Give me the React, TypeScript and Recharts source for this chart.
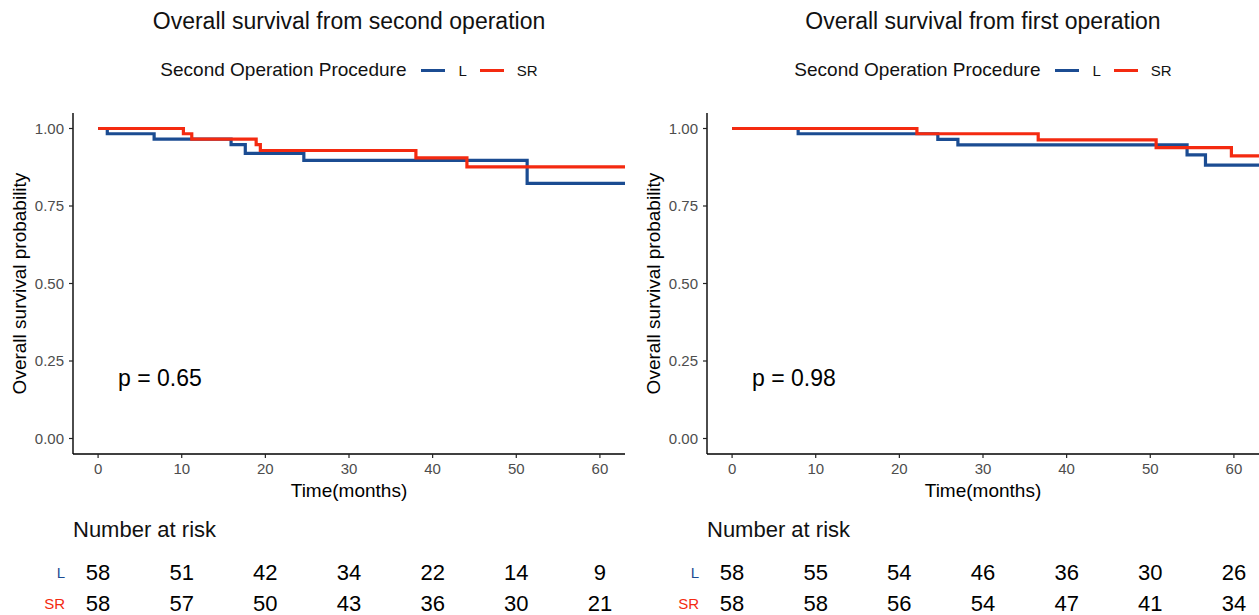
import { LineChart, Line, XAxis, YAxis, ReferenceDot, ScatterChart, Scatter, Label } from "recharts"

const TIME_TICKS = [0, 10, 20, 30, 40, 50, 60]
const SURV_TICKS = [0, 0.25, 0.5, 0.75, 1]
const GROUPS = ["L", "SR"]
const COLORS: Record<string, string> = { L: "#1B4C92", SR: "#F42A10" }

// survival from second operation
const secondL_time = [0, 1.1, 6.7, 15.9, 17.6, 24.6, 51.3, 63]
const secondL_surv = [1, 0.983, 0.966, 0.948, 0.92, 0.897, 0.823, 0.823]
const secondSR_time = [0, 10.2, 11.2, 18.9, 19.4, 38.0, 44.1, 63]
const secondSR_surv = [1, 0.983, 0.966, 0.948, 0.929, 0.905, 0.876, 0.876]
const secondRiskL = [58, 51, 42, 34, 22, 14, 9]
const secondRiskSR = [58, 57, 50, 43, 36, 30, 21]

// survival from first operation
const firstL_time = [0, 7.9, 24.6, 27.0, 54.4, 56.6, 63]
const firstL_surv = [1, 0.983, 0.965, 0.947, 0.915, 0.882, 0.882]
const firstSR_time = [0, 22.1, 36.6, 50.7, 59.7, 63]
const firstSR_surv = [1, 0.983, 0.963, 0.938, 0.912, 0.912]
const firstRiskL = [58, 55, 54, 46, 36, 30, 26]
const firstRiskSR = [58, 58, 56, 54, 47, 41, 34]

const FONT = "'Liberation Sans', Arial, sans-serif"
const PANEL_W = 634
const Y_AXIS_W = 73
const RIGHT_M = 9
const PLOT_W = PANEL_W - Y_AXIS_W - RIGHT_M

const toSeries = (time: number[], surv: number[]) => time.map((t, i) => ({ t, s: surv[i] }))

const YTitle = (props: any) => {
  const vb = props.viewBox
  const cy = vb.y + vb.height / 2
  return (
    <text x={19} y={cy} transform={`rotate(-90, 19, ${cy})`} textAnchor="middle" dominantBaseline="central"
      fontSize={19} fill="#000" fontFamily={FONT}>
      Overall survival probability
    </text>
  )
}

const XTitle = (props: any) => {
  const vb = props.viewBox
  return (
    <text x={vb.x + vb.width / 2} y={vb.y + 36} textAnchor="middle" dominantBaseline="central"
      fontSize={19} fill="#000" fontFamily={FONT}>
      Time(months)
    </text>
  )
}

const RiskTick = (props: any) => {
  const grp = props.payload.value === 2 ? "L" : "SR"
  return (
    <text x={65} y={props.y} textAnchor="end" dominantBaseline="central" fontSize={15}
      fill={COLORS[grp]} fontFamily={FONT}>
      {grp}
    </text>
  )
}

const RiskNumber = (props: any) => (
  <text x={props.cx} y={props.cy} textAnchor="middle" dominantBaseline="central" fontSize={22}
    fill="#000" fontFamily={FONT}>
    {props.payload.n}
  </text>
)

type PanelProps = {
  left: number
  title: string
  pText: string
  lTime: number[]
  lSurv: number[]
  srTime: number[]
  srSurv: number[]
  riskL: number[]
  riskSR: number[]
}

function SurvivalPanel(p: PanelProps) {
  const lData = toSeries(p.lTime, p.lSurv)
  const srData = toSeries(p.srTime, p.srSurv)
  const riskRows = [
    ...TIME_TICKS.map((t, i) => ({ t, row: 2, n: p.riskL[i] })),
    ...TIME_TICKS.map((t, i) => ({ t, row: 1, n: p.riskSR[i] })),
  ]

  return (
    <div style={{ position: "absolute", left: p.left, top: 0, width: PANEL_W, height: 615, fontFamily: FONT }}>
      <div style={{ position: "absolute", left: Y_AXIS_W, top: 9, width: PLOT_W, textAlign: "center", fontSize: 23, lineHeight: "25px", color: "#111" }}>
        {p.title}
      </div>
      <div style={{ position: "absolute", left: Y_AXIS_W, top: 58, width: PLOT_W, height: 24, display: "flex", justifyContent: "center", alignItems: "center", color: "#111" }}>
        <span style={{ fontSize: 19, marginRight: 15 }}>Second Operation Procedure</span>
        {GROUPS.map((g) => (
          <span key={g} style={{ display: "flex", alignItems: "center" }}>
            <span style={{ display: "inline-block", width: 24, height: 3, background: COLORS[g], marginRight: 13 }} />
            <span style={{ fontSize: 15, marginRight: g === "L" ? 13 : 0 }}>{g}</span>
          </span>
        ))}
      </div>

      <div style={{ position: "absolute", left: 0, top: 0 }}>
        <LineChart width={PANEL_W} height={530} margin={{ top: 113, right: RIGHT_M, bottom: 24, left: 0 }}>
          <XAxis type="number" dataKey="t" domain={[-3, 63]} ticks={TIME_TICKS} allowDataOverflow height={52}
            tickSize={4} tickMargin={5} axisLine={{ stroke: "#000", strokeWidth: 1.4 }} tickLine={{ stroke: "#222", strokeWidth: 1.2 }}
            tick={{ fontSize: 15, fill: "#4D4D4D", fontFamily: FONT }}>
            <Label content={XTitle} />
          </XAxis>
          <YAxis type="number" domain={[-0.05, 1.05]} ticks={SURV_TICKS} allowDataOverflow width={Y_AXIS_W}
            tickFormatter={(v: number) => v.toFixed(2)} tickSize={4} tickMargin={5}
            axisLine={{ stroke: "#000", strokeWidth: 1.4 }} tickLine={{ stroke: "#222", strokeWidth: 1.2 }}
            tick={{ fontSize: 15, fill: "#4D4D4D", fontFamily: FONT }}>
            <Label content={YTitle} />
          </YAxis>
          <Line data={lData} dataKey="s" type="stepAfter" stroke={COLORS.L} strokeWidth={3.2} dot={false} isAnimationActive={false} />
          <Line data={srData} dataKey="s" type="stepAfter" stroke={COLORS.SR} strokeWidth={3.2} dot={false} isAnimationActive={false} />
          <ReferenceDot x={7.4} y={0.195} r={0} fill="none" stroke="none"
            label={{ value: p.pText, position: "center", fontSize: 23, fill: "#000", fontFamily: FONT }} />
        </LineChart>
      </div>

      <div style={{ position: "absolute", left: Y_AXIS_W, top: 517, fontSize: 22, lineHeight: "26px", color: "#111" }}>
        Number at risk
      </div>
      <div style={{ position: "absolute", left: 0, top: 540 }}>
        <ScatterChart width={PANEL_W} height={80} margin={{ top: 17, right: RIGHT_M, bottom: 1, left: 0 }}>
          <XAxis type="number" dataKey="t" domain={[-3, 63]} hide height={0} />
          <YAxis type="number" dataKey="row" domain={[0.5, 2.5]} ticks={[1, 2]} width={Y_AXIS_W}
            axisLine={false} tickLine={false} tick={RiskTick} />
          <Scatter data={riskRows} shape={RiskNumber} isAnimationActive={false} />
        </ScatterChart>
      </div>
    </div>
  )
}

export default function App() {
  return (
    <div style={{ position: "absolute", left: 0, top: 0, width: 1259, height: 615, overflow: "hidden", background: "#fff" }}>
      <SurvivalPanel left={0} title="Overall survival from second operation" pText="p = 0.65"
        lTime={secondL_time} lSurv={secondL_surv} srTime={secondSR_time} srSurv={secondSR_surv}
        riskL={secondRiskL} riskSR={secondRiskSR} />
      <SurvivalPanel left={634} title="Overall survival from first operation" pText="p = 0.98"
        lTime={firstL_time} lSurv={firstL_surv} srTime={firstSR_time} srSurv={firstSR_surv}
        riskL={firstRiskL} riskSR={firstRiskSR} />
    </div>
  )
}
